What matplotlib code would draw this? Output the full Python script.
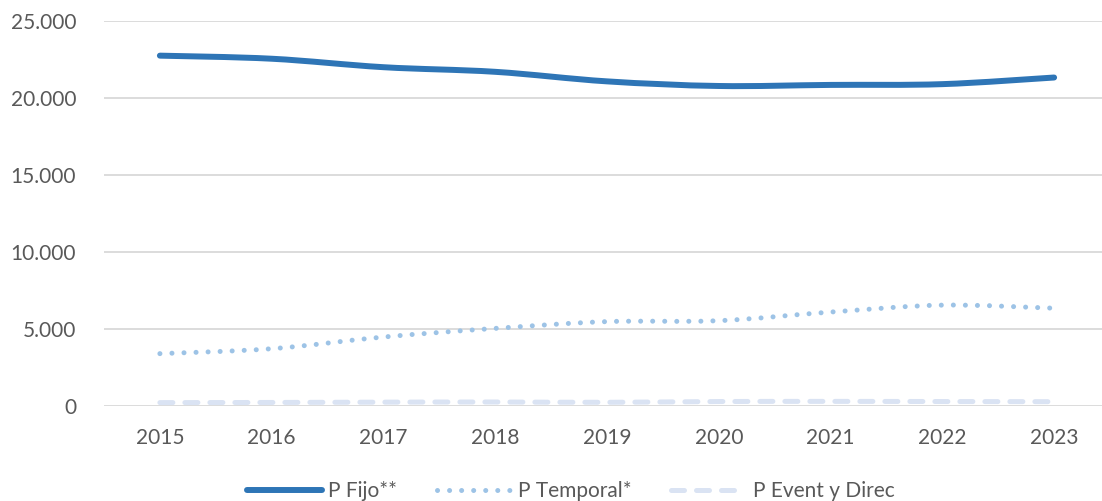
import numpy as np
import matplotlib
matplotlib.use('Agg')
import matplotlib.pyplot as plt
from matplotlib.path import Path
from matplotlib.patches import PathPatch
from matplotlib.lines import Line2D
from matplotlib.ticker import FuncFormatter

years = ['2015', '2016', '2017', '2018', '2019', '2020', '2021', '2022', '2023']
p_fijo = [22750, 22550, 22000, 21700, 21080, 20780, 20850, 20900, 21330]
p_temporal = [3400, 3720, 4480, 5040, 5480, 5540, 6100, 6550, 6350]
p_event = [220, 230, 250, 260, 240, 290, 300, 290, 280]

labels = ['P Fijo**', 'P Temporal*', 'P Event y Direc']
colors = ['#2E75B6', '#9DC3E6', '#DAE3F3']

plt.rcParams['font.family'] = ['Lato', 'DejaVu Sans']


def smooth_path(x, y):
    # Excel-like smoothed line: cubic bezier segments (Catmull-Rom style)
    x = np.asarray(x, float)
    y = np.asarray(y, float)
    verts = [(x[0], y[0])]
    codes = [Path.MOVETO]
    n = len(x)
    for i in range(n - 1):
        x0, y0 = (x[i - 1], y[i - 1]) if i > 0 else (x[i], y[i])
        x3, y3 = (x[i + 2], y[i + 2]) if i + 2 < n else (x[i + 1], y[i + 1])
        c1 = (x[i] + (x[i + 1] - x0) / 6, y[i] + (y[i + 1] - y0) / 6)
        c2 = (x[i + 1] - (x3 - x[i]) / 6, y[i + 1] - (y3 - y[i]) / 6)
        verts += [c1, c2, (x[i + 1], y[i + 1])]
        codes += [Path.CURVE4] * 3
    return Path(verts, codes)


fig = plt.figure(figsize=(11.02, 5.01), dpi=100)
ax = fig.add_axes([104 / 1102, 1 - 406 / 501, 1006 / 1102, 385 / 501])

xs = np.arange(len(years))
styles = [
    dict(lw=4.3, ls='-'),
    dict(lw=3.6, ls=(0, (0.01, 2.4))),
    dict(lw=3.6, ls=(0, (2.6, 2.4))),
]
series = [p_fijo, p_temporal, p_event]
for vals, col, st in zip(series[::-1], colors[::-1], styles[::-1]):
    patch = PathPatch(smooth_path(xs, vals), facecolor='none', edgecolor=col,
                      lw=st['lw'], ls=st['ls'], capstyle='round', joinstyle='round')
    ax.add_patch(patch)

ax.set_xlim(-0.5, len(years) - 0.5)
ax.set_ylim(0, 25000)
ax.set_xticks(xs)
ax.set_xticklabels(years)
ax.set_yticks(np.arange(0, 25001, 5000))
ax.yaxis.set_major_formatter(FuncFormatter(lambda v, p: f'{int(v):,}'.replace(',', '.')))
ax.grid(axis='y', color='#D9D9D9', lw=1.3)
ax.set_axisbelow(True)
for s in ax.spines.values():
    s.set_visible(False)
ax.tick_params(length=0, labelsize=15, colors='#595959')
ax.tick_params(axis='y', pad=20)
ax.tick_params(axis='x', pad=16)

handles = [Line2D([0], [0], color=c, lw=st['lw'], ls=st['ls'], solid_capstyle='round',
                  dash_capstyle='round') for c, st in zip(colors, styles)]
fig.legend(handles, labels, loc='center', bbox_to_anchor=(0.518, 0.02), ncol=3,
           frameon=False, fontsize=15, labelcolor='#595959', handlelength=3.6,
           handletextpad=0.3, columnspacing=1.9)

fig.savefig('out.png', dpi=100)
